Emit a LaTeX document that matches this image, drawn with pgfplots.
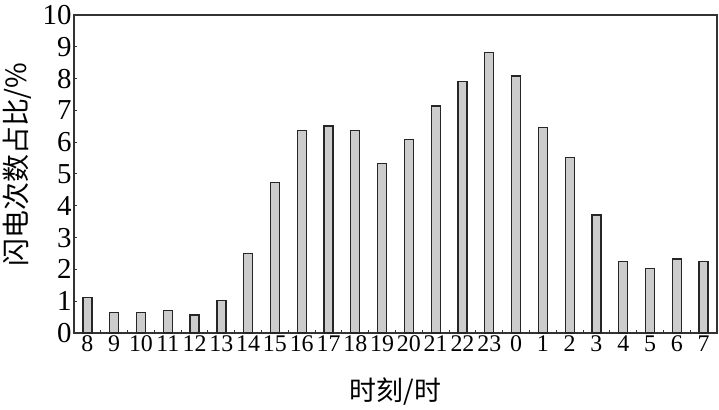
\documentclass[border=0pt]{standalone}
\usepackage{fontspec}
\setmainfont{Liberation Serif}
\newfontfamily\numfont{Liberation Serif}
\newfontfamily\cjk{Noto Sans CJK SC}
\usepackage{pgfplots}
\pgfplotsset{compat=1.18}

\pgfplotstableread{
idx share
0  1.12
1  0.65
2  0.65
3  0.70
4  0.57
5  1.02
6  2.50
7  4.73
8  6.36
9  6.51
10 6.36
11 5.33
12 6.09
13 7.14
14 7.90
15 8.83
16 8.08
17 6.46
18 5.52
19 3.71
20 2.24
21 2.03
22 2.33
23 2.25
}\lightning

\begin{document}
\begin{tikzpicture}
\begin{axis}[
    scale only axis,
    width=643bp, height=318bp,
    ybar, bar width=9bp,
    xmin=-0.5, xmax=23.5,
    ymin=0, ymax=10,
    ytick={0,1,...,10},
    yticklabels={0,1,2,3,4,5,6,7,8,9,10},
    xtick={0,1,...,23},
    xticklabels={8,9,10,11,12,13,14,15,16,17,18,19,20,21,22,23,0,1,2,3,4,5,6,7},
    minor xtick={0.5,1.5,...,22.5},
    tick pos=left,
    tick align=inside,
    major tick length=3.5bp,
    minor tick length=3.5bp,
    x tick style={draw=none},
    minor x tick style={draw=black!80, line width=1bp},
    y tick style={black!80, line width=1bp},
    axis line style={black!80, line width=1.2bp},
    yticklabel style={font=\numfont\fontsize{29}{30}\selectfont, xshift=1bp},
    xticklabel style={font=\numfont\fontsize{24}{25}\selectfont, yshift=1bp},
    xlabel={\cjk 时刻/时},
    ylabel={\cjk 闪电次数占比/\%},
    xlabel style={font=\fontsize{27}{28}\selectfont,
        at={(axis description cs:0.5,0)}, anchor=center, yshift=-59bp},
    ylabel style={font=\fontsize{28}{29}\selectfont,
        at={(axis description cs:-0.088,0.53)}, anchor=center},
]
\addplot[draw=black!85, line width=1.3bp, fill=black!20] table[x=idx, y=share] {\lightning};
\end{axis}
\pgfresetboundingbox
\path ([xshift=-74bp,yshift=-77bp]current axis.south west) rectangle ([xshift=2bp,yshift=15bp]current axis.north east);
\end{tikzpicture}
\end{document}
